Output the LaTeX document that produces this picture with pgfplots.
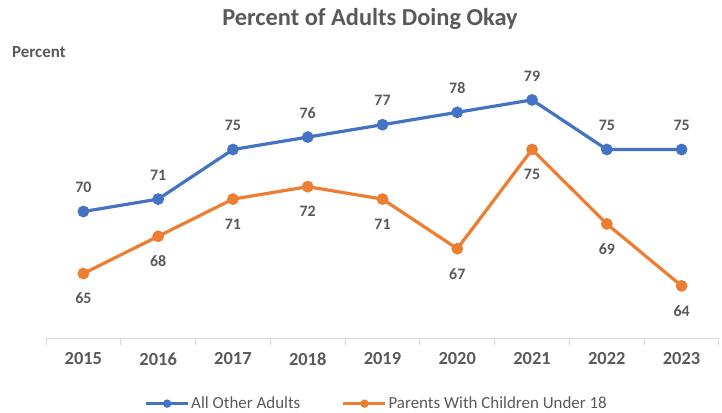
\documentclass[border=0pt]{standalone}
\usepackage{pgfplots}
\pgfplotsset{compat=1.18}
\usepackage{fontspec}
\setmainfont{Carlito}
\definecolor{cblue}{HTML}{4472C4}
\definecolor{corange}{HTML}{ED7D31}
\definecolor{txt}{HTML}{595959}
\definecolor{axgray}{HTML}{D9D9D9}
\begin{document}
\begin{tikzpicture}
\path[use as bounding box] (0,0) rectangle (722bp,413bp);
\node[font=\fontsize{24.5}{26}\selectfont\bfseries, text=txt] at (370bp,394bp) {Percent of Adults Doing Okay};
\node[font=\fontsize{17}{19}\selectfont\bfseries, text=txt, anchor=west, inner sep=0pt] at (12bp,361bp) {Percent};
\begin{axis}[
    at={(46bp,75bp)}, anchor=south west,
    scale only axis,
    width=673bp, height=312.5bp,
    xmin=2014.5, xmax=2023.5,
    ymin=59.8, ymax=85,
    clip=false,
    hide y axis,
    axis x line*=bottom,
    axis line style={axgray, line width=1bp},
    xtick={2015,...,2023},
    major tick length=0pt,
    x tick label style={font=\fontsize{18.5}{20}\selectfont\bfseries, text=txt, yshift=-11bp},
    /pgf/number format/assume math mode=true,
    /pgf/number format/1000 sep={},
    extra x ticks={2014.5,2015.5,...,2023.5},
    extra x tick labels={},
    extra x tick style={major tick length=7bp, tick align=outside, tick style={axgray, line width=1bp}},
    nodes near coords,
    nodes near coords style={font=\fontsize{16}{18}\selectfont\bfseries, text=txt, anchor=center},
    legend columns=2,
    legend style={at={(0.491,-0.21)}, anchor=center, draw=none, fill=none,
        font=\fontsize{17}{19}\selectfont, text=txt,
        nodes={inner xsep=1.5bp},
        /tikz/every even column/.append style={column sep=40bp}},
    legend image code/.code={
        \draw[#1, mark repeat=2, mark phase=2, mark size=2.5bp]
        plot coordinates {(0bp,0bp) (21bp,0bp) (42bp,0bp)};
    },
]
\addplot[cblue, line width=3.2bp, mark=*, mark size=4.2bp,
    every node near coord/.append style={yshift=24bp}]
coordinates {
    (2015,70) (2016,71) (2017,75) (2018,76) (2019,77)
    (2020,78) (2021,79) (2022,75) (2023,75)
};
\addlegendentry{All Other Adults}
\addplot[corange, line width=3.2bp, mark=*, mark size=4.2bp,
    every node near coord/.append style={yshift=-25bp}]
coordinates {
    (2015,65) (2016,68) (2017,71) (2018,72) (2019,71)
    (2020,67) (2021,75) (2022,69) (2023,64)
};
\addlegendentry{Parents With Children Under 18}
\end{axis}
\end{tikzpicture}
\end{document}
